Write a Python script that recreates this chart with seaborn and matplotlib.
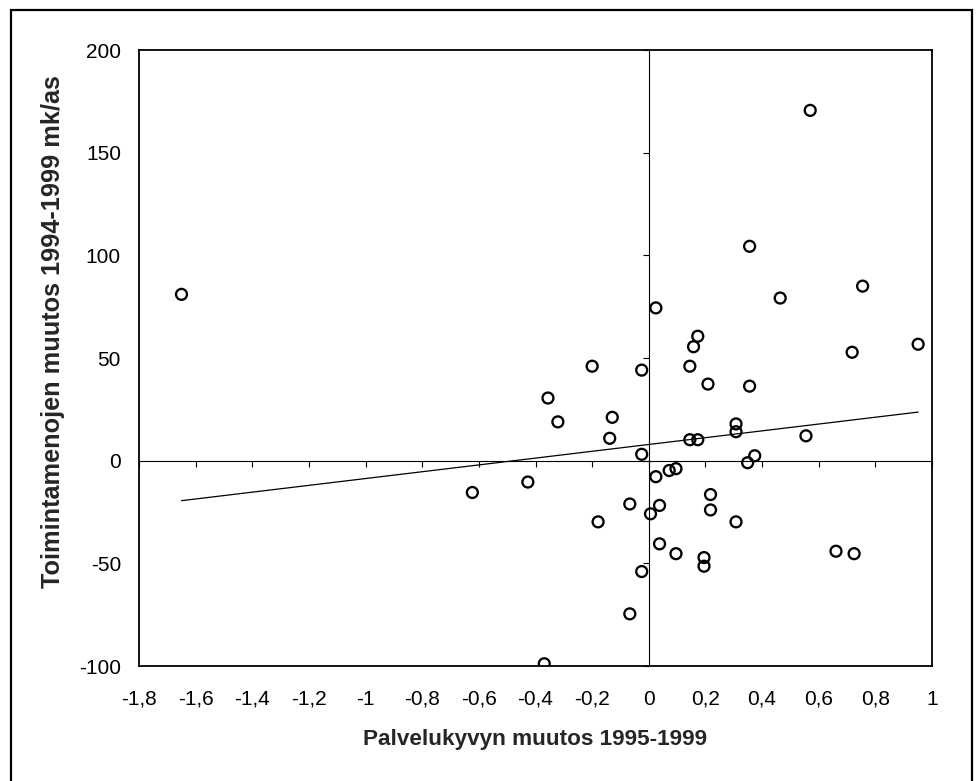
import matplotlib
matplotlib.use("Agg")
import matplotlib.pyplot as plt
import matplotlib.ticker as mticker
from matplotlib.patches import Rectangle
import numpy as np
import pandas as pd
import seaborn as sns

# ---- data ----
palvelukyky = [-1.65, 0.57, 0.356, 0.755, 0.464, 0.025, 0.173, 0.158, 0.951, 0.718,
               -0.200, -0.025, 0.145, 0.209, 0.356, -0.356, -0.321, -0.129, -0.138, 0.308,
               0.308, 0.145, 0.173, 0.555, -0.025, 0.374, 0.349, 0.025, 0.072, 0.096,
               -0.427, -0.623, 0.218, 0.218, -0.067, 0.038, 0.006, -0.179, 0.308, 0.038,
               0.096, 0.195, 0.195, 0.661, 0.725, -0.025, -0.067, -0.369]
toimintamenot = [81.0, 170.6, 104.4, 85.0, 79.2, 74.4, 60.6, 55.5, 56.7, 52.8,
                 46.0, 44.1, 46.0, 37.3, 36.3, 30.5, 18.9, 21.1, 10.9, 17.9,
                 14.1, 10.2, 10.2, 12.1, 3.1, 2.4, -1.0, -7.8, -4.8, -3.9,
                 -10.4, -15.5, -16.5, -24.0, -21.1, -21.8, -25.9, -29.8, -29.8, -40.5,
                 -45.3, -47.2, -51.4, -44.1, -45.3, -54.0, -74.6, -98.9]
x_ticks = [-1.8, -1.6, -1.4, -1.2, -1.0, -0.8, -0.6, -0.4, -0.2, 0.0, 0.2, 0.4, 0.6, 0.8, 1.0]
y_ticks = [-100, -50, 0, 50, 100, 150, 200]
x_label = "Palvelukyvyn muutos 1995-1999"
y_label = "Toimintamenojen muutos 1994-1999 mk/as"

df = pd.DataFrame({"x": palvelukyky, "y": toimintamenot})

sns.set_style("white")
plt.rcParams["font.family"] = ["Liberation Sans", "DejaVu Sans"]

W, H = 978, 781
fig = plt.figure(figsize=(W / 100, H / 100), dpi=100)
pos = [139 / W, 1 - 666 / H, (932 - 139) / W, (666 - 50) / H]
ax = fig.add_axes(pos)

sns.regplot(data=df, x="x", y="y", ax=ax, ci=None, marker="o", truncate=True,
            scatter_kws=dict(facecolors="none", edgecolors="black", s=62,
                             linewidths=1.65, alpha=1, zorder=3),
            line_kws=dict(color="black", lw=0.9, zorder=2))

ax.set_xlim(x_ticks[0], x_ticks[-1])
ax.set_ylim(y_ticks[0], y_ticks[-1])
ax.set_xticks(x_ticks)
ax.set_yticks(y_ticks)
fmt = mticker.FuncFormatter(lambda v, p: f"{v:g}".replace(".", ","))
ax.xaxis.set_major_formatter(fmt)
ax.yaxis.set_major_formatter(fmt)
ax.tick_params(axis="both", length=0, labelsize=15, colors="black")
ax.tick_params(axis="x", pad=17)
ax.tick_params(axis="y", pad=13)
for s in ax.spines.values():
    s.set_visible(True)
    s.set_color("black")
    s.set_linewidth(1.3)

ax.set_xlabel(x_label, fontsize=16.2, fontweight="bold", va="center")
ax.set_ylabel(y_label, fontsize=18.2, fontweight="bold", va="center")
ax.xaxis.set_label_coords(0.5, (666 - 740) / 616)
ax.yaxis.set_label_coords((53 - 139) / 793, (666 - 331.7) / 616)

# zero-crossing axes with tick marks
ax2 = fig.add_axes(pos, sharex=ax, sharey=ax)
ax2.patch.set_visible(False)
ax2.spines["left"].set_position(("data", 0))
ax2.spines["bottom"].set_position(("data", 0))
ax2.spines["top"].set_visible(False)
ax2.spines["right"].set_visible(False)
for k in ("left", "bottom"):
    ax2.spines[k].set_color("black")
    ax2.spines[k].set_linewidth(0.8)
ax2.tick_params(axis="both", direction="out", length=4.5, width=0.8, colors="black",
                labelleft=False, labelbottom=False, left=True, bottom=True)
ax2.set_xlabel("")
ax2.set_ylabel("")

# outer chart border (bottom edge runs past the image)
fig.add_artist(Rectangle((11 / W, -0.05), (972 - 11) / W, (1 - 10 / H) + 0.05,
                         transform=fig.transFigure, fill=False, lw=1.6, ec="black"))

fig.savefig("out.png", dpi=100)
